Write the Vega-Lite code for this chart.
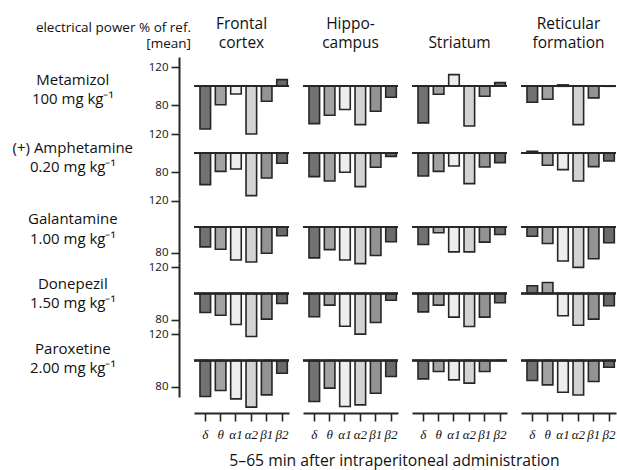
{
  "$schema": "https://vega.github.io/schema/vega-lite/v6.json",
  "padding": {"left": 12, "top": 16, "right": 0, "bottom": 2},
  "background": "white",
  "bounds": "flush",
  "align": "each",
  "columns": 4,
  "spacing": {"row": 0, "column": 14},
  "title": {"text": ["electrical power % of ref.", "[mean]"], "anchor": "start", "frame": "group", "align": "right", "font": "Open Sans", "fontSize": 13.5, "fontWeight": "normal", "lineHeight": 16, "dx": -3, "dy": 54, "baseline": "bottom", "color": "#111"},
  "datasets": {
    "eeg": [
      {"drug": "Metamizol", "region": "Frontal cortex", "band": "δ", "value": 55},
      {"drug": "Metamizol", "region": "Frontal cortex", "band": "θ", "value": 80.6},
      {"drug": "Metamizol", "region": "Frontal cortex", "band": "α1", "value": 91.9},
      {"drug": "Metamizol", "region": "Frontal cortex", "band": "α2", "value": 49.8},
      {"drug": "Metamizol", "region": "Frontal cortex", "band": "β1", "value": 84.2},
      {"drug": "Metamizol", "region": "Frontal cortex", "band": "β2", "value": 107},
      {"drug": "Metamizol", "region": "Hippocampus", "band": "δ", "value": 60.7},
      {"drug": "Metamizol", "region": "Hippocampus", "band": "θ", "value": 69.5},
      {"drug": "Metamizol", "region": "Hippocampus", "band": "α1", "value": 75.5},
      {"drug": "Metamizol", "region": "Hippocampus", "band": "α2", "value": 59.7},
      {"drug": "Metamizol", "region": "Hippocampus", "band": "β1", "value": 73.7},
      {"drug": "Metamizol", "region": "Hippocampus", "band": "β2", "value": 88.4},
      {"drug": "Metamizol", "region": "Striatum", "band": "δ", "value": 61.5},
      {"drug": "Metamizol", "region": "Striatum", "band": "θ", "value": 91.6},
      {"drug": "Metamizol", "region": "Striatum", "band": "α1", "value": 112.3},
      {"drug": "Metamizol", "region": "Striatum", "band": "α2", "value": 58.2},
      {"drug": "Metamizol", "region": "Striatum", "band": "β1", "value": 89.5},
      {"drug": "Metamizol", "region": "Striatum", "band": "β2", "value": 103.9},
      {"drug": "Metamizol", "region": "Reticular formation", "band": "δ", "value": 83.2},
      {"drug": "Metamizol", "region": "Reticular formation", "band": "θ", "value": 86.3},
      {"drug": "Metamizol", "region": "Reticular formation", "band": "α1", "value": 101.5},
      {"drug": "Metamizol", "region": "Reticular formation", "band": "α2", "value": 59.7},
      {"drug": "Metamizol", "region": "Reticular formation", "band": "β1", "value": 87.8},
      {"drug": "Metamizol", "region": "Reticular formation", "band": "β2", "value": 100.3},
      {"drug": "Amphetamine", "region": "Frontal cortex", "band": "δ", "value": 67},
      {"drug": "Amphetamine", "region": "Frontal cortex", "band": "θ", "value": 81},
      {"drug": "Amphetamine", "region": "Frontal cortex", "band": "α1", "value": 83.5},
      {"drug": "Amphetamine", "region": "Frontal cortex", "band": "α2", "value": 55.4},
      {"drug": "Amphetamine", "region": "Frontal cortex", "band": "β1", "value": 74},
      {"drug": "Amphetamine", "region": "Frontal cortex", "band": "β2", "value": 89.5},
      {"drug": "Amphetamine", "region": "Hippocampus", "band": "δ", "value": 75.4},
      {"drug": "Amphetamine", "region": "Hippocampus", "band": "θ", "value": 70.8},
      {"drug": "Amphetamine", "region": "Hippocampus", "band": "α1", "value": 80},
      {"drug": "Amphetamine", "region": "Hippocampus", "band": "α2", "value": 64.9},
      {"drug": "Amphetamine", "region": "Hippocampus", "band": "β1", "value": 85.3},
      {"drug": "Amphetamine", "region": "Hippocampus", "band": "β2", "value": 96.8},
      {"drug": "Amphetamine", "region": "Striatum", "band": "δ", "value": 76.1},
      {"drug": "Amphetamine", "region": "Striatum", "band": "θ", "value": 81},
      {"drug": "Amphetamine", "region": "Striatum", "band": "α1", "value": 86.7},
      {"drug": "Amphetamine", "region": "Striatum", "band": "α2", "value": 68.1},
      {"drug": "Amphetamine", "region": "Striatum", "band": "β1", "value": 85.6},
      {"drug": "Amphetamine", "region": "Striatum", "band": "β2", "value": 90.2},
      {"drug": "Amphetamine", "region": "Reticular formation", "band": "δ", "value": 102},
      {"drug": "Amphetamine", "region": "Reticular formation", "band": "θ", "value": 87.4},
      {"drug": "Amphetamine", "region": "Reticular formation", "band": "α1", "value": 82.8},
      {"drug": "Amphetamine", "region": "Reticular formation", "band": "α2", "value": 70.9},
      {"drug": "Amphetamine", "region": "Reticular formation", "band": "β1", "value": 86},
      {"drug": "Amphetamine", "region": "Reticular formation", "band": "β2", "value": 91.9},
      {"drug": "Galantamine", "region": "Frontal cortex", "band": "δ", "value": 84.5},
      {"drug": "Galantamine", "region": "Frontal cortex", "band": "θ", "value": 82.7},
      {"drug": "Galantamine", "region": "Frontal cortex", "band": "α1", "value": 74.4},
      {"drug": "Galantamine", "region": "Frontal cortex", "band": "α2", "value": 72.9},
      {"drug": "Galantamine", "region": "Frontal cortex", "band": "β1", "value": 79.6},
      {"drug": "Galantamine", "region": "Frontal cortex", "band": "β2", "value": 93},
      {"drug": "Galantamine", "region": "Hippocampus", "band": "δ", "value": 76},
      {"drug": "Galantamine", "region": "Hippocampus", "band": "θ", "value": 82.4},
      {"drug": "Galantamine", "region": "Hippocampus", "band": "α1", "value": 74.4},
      {"drug": "Galantamine", "region": "Hippocampus", "band": "α2", "value": 71.6},
      {"drug": "Galantamine", "region": "Hippocampus", "band": "β1", "value": 77.8},
      {"drug": "Galantamine", "region": "Hippocampus", "band": "β2", "value": 88.4},
      {"drug": "Galantamine", "region": "Striatum", "band": "δ", "value": 86.3},
      {"drug": "Galantamine", "region": "Striatum", "band": "θ", "value": 95.3},
      {"drug": "Galantamine", "region": "Striatum", "band": "α1", "value": 80.6},
      {"drug": "Galantamine", "region": "Striatum", "band": "α2", "value": 80.6},
      {"drug": "Galantamine", "region": "Striatum", "band": "β1", "value": 88.1},
      {"drug": "Galantamine", "region": "Striatum", "band": "β2", "value": 94},
      {"drug": "Galantamine", "region": "Reticular formation", "band": "δ", "value": 92.7},
      {"drug": "Galantamine", "region": "Reticular formation", "band": "θ", "value": 87.1},
      {"drug": "Galantamine", "region": "Reticular formation", "band": "α1", "value": 73.6},
      {"drug": "Galantamine", "region": "Reticular formation", "band": "α2", "value": 68.7},
      {"drug": "Galantamine", "region": "Reticular formation", "band": "β1", "value": 75.4},
      {"drug": "Galantamine", "region": "Reticular formation", "band": "β2", "value": 87.6},
      {"drug": "Donepezil", "region": "Frontal cortex", "band": "δ", "value": 85.5},
      {"drug": "Donepezil", "region": "Frontal cortex", "band": "θ", "value": 83.4},
      {"drug": "Donepezil", "region": "Frontal cortex", "band": "α1", "value": 76.3},
      {"drug": "Donepezil", "region": "Frontal cortex", "band": "α2", "value": 67.2},
      {"drug": "Donepezil", "region": "Frontal cortex", "band": "β1", "value": 80.4},
      {"drug": "Donepezil", "region": "Frontal cortex", "band": "β2", "value": 92.4},
      {"drug": "Donepezil", "region": "Hippocampus", "band": "δ", "value": 82.2},
      {"drug": "Donepezil", "region": "Hippocampus", "band": "θ", "value": 91.1},
      {"drug": "Donepezil", "region": "Hippocampus", "band": "α1", "value": 75},
      {"drug": "Donepezil", "region": "Hippocampus", "band": "α2", "value": 69},
      {"drug": "Donepezil", "region": "Hippocampus", "band": "β1", "value": 77.9},
      {"drug": "Donepezil", "region": "Hippocampus", "band": "β2", "value": 94.9},
      {"drug": "Donepezil", "region": "Striatum", "band": "δ", "value": 86},
      {"drug": "Donepezil", "region": "Striatum", "band": "θ", "value": 91.1},
      {"drug": "Donepezil", "region": "Striatum", "band": "α1", "value": 82},
      {"drug": "Donepezil", "region": "Striatum", "band": "α2", "value": 74.8},
      {"drug": "Donepezil", "region": "Striatum", "band": "β1", "value": 82},
      {"drug": "Donepezil", "region": "Striatum", "band": "β2", "value": 92.9},
      {"drug": "Donepezil", "region": "Reticular formation", "band": "δ", "value": 105.9},
      {"drug": "Donepezil", "region": "Reticular formation", "band": "θ", "value": 108.4},
      {"drug": "Donepezil", "region": "Reticular formation", "band": "α1", "value": 83},
      {"drug": "Donepezil", "region": "Reticular formation", "band": "α2", "value": 75.8},
      {"drug": "Donepezil", "region": "Reticular formation", "band": "β1", "value": 80.4},
      {"drug": "Donepezil", "region": "Reticular formation", "band": "β2", "value": 90.6},
      {"drug": "Paroxetine", "region": "Frontal cortex", "band": "δ", "value": 72.5},
      {"drug": "Paroxetine", "region": "Frontal cortex", "band": "θ", "value": 77.1},
      {"drug": "Paroxetine", "region": "Frontal cortex", "band": "α1", "value": 70.7},
      {"drug": "Paroxetine", "region": "Frontal cortex", "band": "α2", "value": 64.4},
      {"drug": "Paroxetine", "region": "Frontal cortex", "band": "β1", "value": 73.8},
      {"drug": "Paroxetine", "region": "Frontal cortex", "band": "β2", "value": 90.3},
      {"drug": "Paroxetine", "region": "Hippocampus", "band": "δ", "value": 68.7},
      {"drug": "Paroxetine", "region": "Hippocampus", "band": "θ", "value": 78.9},
      {"drug": "Paroxetine", "region": "Hippocampus", "band": "α1", "value": 64.9},
      {"drug": "Paroxetine", "region": "Hippocampus", "band": "α2", "value": 66.1},
      {"drug": "Paroxetine", "region": "Hippocampus", "band": "β1", "value": 75},
      {"drug": "Paroxetine", "region": "Hippocampus", "band": "β2", "value": 87.8},
      {"drug": "Paroxetine", "region": "Striatum", "band": "δ", "value": 86},
      {"drug": "Paroxetine", "region": "Striatum", "band": "θ", "value": 91.6},
      {"drug": "Paroxetine", "region": "Striatum", "band": "α1", "value": 85.2},
      {"drug": "Paroxetine", "region": "Striatum", "band": "α2", "value": 82.7},
      {"drug": "Paroxetine", "region": "Striatum", "band": "β1", "value": 91.6},
      {"drug": "Paroxetine", "region": "Striatum", "band": "β2", "value": 100},
      {"drug": "Paroxetine", "region": "Reticular formation", "band": "δ", "value": 84.7},
      {"drug": "Paroxetine", "region": "Reticular formation", "band": "θ", "value": 81.4},
      {"drug": "Paroxetine", "region": "Reticular formation", "band": "α1", "value": 75.8},
      {"drug": "Paroxetine", "region": "Reticular formation", "band": "α2", "value": 73.7},
      {"drug": "Paroxetine", "region": "Reticular formation", "band": "β1", "value": 84},
      {"drug": "Paroxetine", "region": "Reticular formation", "band": "β2", "value": 94.9}
    ]
  },
  "data": {"name": "eeg"},
  "concat": [
    {"width": 95, "height": 76, "title": {"text": ["Frontal", "cortex"]},
     "transform": [{"filter": "datum.drug === 'Metamizol' && datum.region === 'Frontal cortex'"}],
     "layer": [
      {"mark": {"type": "bar", "stroke": "#262626", "strokeWidth": 1.6},
       "encoding": {
        "x": {"field": "band", "type": "nominal", "sort": ["δ", "θ", "α1", "α2", "β1", "β2"], "scale": {"paddingInner": 0.31, "paddingOuter": 0.25, "align": 0.78}, "axis": null},
        "y": {"field": "value", "type": "quantitative", "scale": {"domain": [50.84, 130.84], "nice": false, "zero": false}, "axis": {"values": [80, 120], "offset": 15, "title": ["Metamizol", "100 mg kg⁻¹"], "titleX": -106.7, "titleY": 22}},
        "y2": {"datum": 100},
        "color": {"field": "band", "type": "nominal", "scale": {"domain": ["δ", "θ", "α1", "α2", "β1", "β2"], "range": ["#727272", "#a2a2a2", "#eeeeee", "#d3d3d3", "#939393", "#6a6a6a"]}, "legend": null}}},
      {"mark": {"type": "rule", "color": "#262626", "strokeWidth": 1.6}, "encoding": {"y": {"datum": 100}}}
     ]},
    {"width": 95, "height": 76, "title": {"text": ["Hippo-", "campus"]},
     "transform": [{"filter": "datum.drug === 'Metamizol' && datum.region === 'Hippocampus'"}],
     "layer": [
      {"mark": {"type": "bar", "stroke": "#262626", "strokeWidth": 1.6},
       "encoding": {
        "x": {"field": "band", "type": "nominal", "sort": ["δ", "θ", "α1", "α2", "β1", "β2"], "scale": {"paddingInner": 0.31, "paddingOuter": 0.25, "align": 0.78}, "axis": null},
        "y": {"field": "value", "type": "quantitative", "scale": {"domain": [50.84, 130.84], "nice": false, "zero": false}, "axis": null},
        "y2": {"datum": 100},
        "color": {"field": "band", "type": "nominal", "legend": null}}},
      {"mark": {"type": "rule", "color": "#262626", "strokeWidth": 1.6}, "encoding": {"y": {"datum": 100}}}
     ]},
    {"width": 95, "height": 76, "title": {"text": ["Striatum"]},
     "transform": [{"filter": "datum.drug === 'Metamizol' && datum.region === 'Striatum'"}],
     "layer": [
      {"mark": {"type": "bar", "stroke": "#262626", "strokeWidth": 1.6},
       "encoding": {
        "x": {"field": "band", "type": "nominal", "sort": ["δ", "θ", "α1", "α2", "β1", "β2"], "scale": {"paddingInner": 0.31, "paddingOuter": 0.25, "align": 0.78}, "axis": null},
        "y": {"field": "value", "type": "quantitative", "scale": {"domain": [50.84, 130.84], "nice": false, "zero": false}, "axis": null},
        "y2": {"datum": 100},
        "color": {"field": "band", "type": "nominal", "legend": null}}},
      {"mark": {"type": "rule", "color": "#262626", "strokeWidth": 1.6}, "encoding": {"y": {"datum": 100}}}
     ]},
    {"width": 95, "height": 76, "title": {"text": ["Reticular", "formation"]},
     "transform": [{"filter": "datum.drug === 'Metamizol' && datum.region === 'Reticular formation'"}],
     "layer": [
      {"mark": {"type": "bar", "stroke": "#262626", "strokeWidth": 1.6},
       "encoding": {
        "x": {"field": "band", "type": "nominal", "sort": ["δ", "θ", "α1", "α2", "β1", "β2"], "scale": {"paddingInner": 0.31, "paddingOuter": 0.25, "align": 0.78}, "axis": null},
        "y": {"field": "value", "type": "quantitative", "scale": {"domain": [50.84, 130.84], "nice": false, "zero": false}, "axis": null},
        "y2": {"datum": 100},
        "color": {"field": "band", "type": "nominal", "legend": null}}},
      {"mark": {"type": "rule", "color": "#262626", "strokeWidth": 1.6}, "encoding": {"y": {"datum": 100}}}
     ]},

    {"width": 95, "height": 65,
     "transform": [{"filter": "datum.drug === 'Amphetamine' && datum.region === 'Frontal cortex'"}],
     "layer": [
      {"mark": {"type": "bar", "stroke": "#262626", "strokeWidth": 1.6},
       "encoding": {
        "x": {"field": "band", "type": "nominal", "sort": ["δ", "θ", "α1", "α2", "β1", "β2"], "scale": {"paddingInner": 0.31, "paddingOuter": 0.25, "align": 0.78}, "axis": null},
        "y": {"field": "value", "type": "quantitative", "scale": {"domain": [52.95, 121.37], "nice": false, "zero": false}, "axis": {"values": [80, 120], "offset": 15, "title": ["(+) Amphetamine", "0.20 mg kg⁻¹"], "titleX": -106.7, "titleY": 14}},
        "y2": {"datum": 100},
        "color": {"field": "band", "type": "nominal", "legend": null}}},
      {"mark": {"type": "rule", "color": "#262626", "strokeWidth": 1.6}, "encoding": {"y": {"datum": 100}}}
     ]},
    {"width": 95, "height": 65,
     "transform": [{"filter": "datum.drug === 'Amphetamine' && datum.region === 'Hippocampus'"}],
     "layer": [
      {"mark": {"type": "bar", "stroke": "#262626", "strokeWidth": 1.6},
       "encoding": {
        "x": {"field": "band", "type": "nominal", "sort": ["δ", "θ", "α1", "α2", "β1", "β2"], "scale": {"paddingInner": 0.31, "paddingOuter": 0.25, "align": 0.78}, "axis": null},
        "y": {"field": "value", "type": "quantitative", "scale": {"domain": [52.95, 121.37], "nice": false, "zero": false}, "axis": null},
        "y2": {"datum": 100},
        "color": {"field": "band", "type": "nominal", "legend": null}}},
      {"mark": {"type": "rule", "color": "#262626", "strokeWidth": 1.6}, "encoding": {"y": {"datum": 100}}}
     ]},
    {"width": 95, "height": 65,
     "transform": [{"filter": "datum.drug === 'Amphetamine' && datum.region === 'Striatum'"}],
     "layer": [
      {"mark": {"type": "bar", "stroke": "#262626", "strokeWidth": 1.6},
       "encoding": {
        "x": {"field": "band", "type": "nominal", "sort": ["δ", "θ", "α1", "α2", "β1", "β2"], "scale": {"paddingInner": 0.31, "paddingOuter": 0.25, "align": 0.78}, "axis": null},
        "y": {"field": "value", "type": "quantitative", "scale": {"domain": [52.95, 121.37], "nice": false, "zero": false}, "axis": null},
        "y2": {"datum": 100},
        "color": {"field": "band", "type": "nominal", "legend": null}}},
      {"mark": {"type": "rule", "color": "#262626", "strokeWidth": 1.6}, "encoding": {"y": {"datum": 100}}}
     ]},
    {"width": 95, "height": 65,
     "transform": [{"filter": "datum.drug === 'Amphetamine' && datum.region === 'Reticular formation'"}],
     "layer": [
      {"mark": {"type": "bar", "stroke": "#262626", "strokeWidth": 1.6},
       "encoding": {
        "x": {"field": "band", "type": "nominal", "sort": ["δ", "θ", "α1", "α2", "β1", "β2"], "scale": {"paddingInner": 0.31, "paddingOuter": 0.25, "align": 0.78}, "axis": null},
        "y": {"field": "value", "type": "quantitative", "scale": {"domain": [52.95, 121.37], "nice": false, "zero": false}, "axis": null},
        "y2": {"datum": 100},
        "color": {"field": "band", "type": "nominal", "legend": null}}},
      {"mark": {"type": "rule", "color": "#262626", "strokeWidth": 1.6}, "encoding": {"y": {"datum": 100}}}
     ]},

    {"width": 95, "height": 65,
     "transform": [{"filter": "datum.drug === 'Galantamine' && datum.region === 'Frontal cortex'"}],
     "layer": [
      {"mark": {"type": "bar", "stroke": "#262626", "strokeWidth": 1.6},
       "encoding": {
        "x": {"field": "band", "type": "nominal", "sort": ["δ", "θ", "α1", "α2", "β1", "β2"], "scale": {"paddingInner": 0.31, "paddingOuter": 0.25, "align": 0.78}, "axis": null},
        "y": {"field": "value", "type": "quantitative", "scale": {"domain": [72.08, 122.08], "nice": false, "zero": false}, "axis": {"values": [80, 120], "offset": 15, "title": ["Galantamine", "1.00 mg kg⁻¹"], "titleX": -106.7, "titleY": 20.5}},
        "y2": {"datum": 100},
        "color": {"field": "band", "type": "nominal", "legend": null}}},
      {"mark": {"type": "rule", "color": "#262626", "strokeWidth": 1.6}, "encoding": {"y": {"datum": 100}}}
     ]},
    {"width": 95, "height": 65,
     "transform": [{"filter": "datum.drug === 'Galantamine' && datum.region === 'Hippocampus'"}],
     "layer": [
      {"mark": {"type": "bar", "stroke": "#262626", "strokeWidth": 1.6},
       "encoding": {
        "x": {"field": "band", "type": "nominal", "sort": ["δ", "θ", "α1", "α2", "β1", "β2"], "scale": {"paddingInner": 0.31, "paddingOuter": 0.25, "align": 0.78}, "axis": null},
        "y": {"field": "value", "type": "quantitative", "scale": {"domain": [72.08, 122.08], "nice": false, "zero": false}, "axis": null},
        "y2": {"datum": 100},
        "color": {"field": "band", "type": "nominal", "legend": null}}},
      {"mark": {"type": "rule", "color": "#262626", "strokeWidth": 1.6}, "encoding": {"y": {"datum": 100}}}
     ]},
    {"width": 95, "height": 65,
     "transform": [{"filter": "datum.drug === 'Galantamine' && datum.region === 'Striatum'"}],
     "layer": [
      {"mark": {"type": "bar", "stroke": "#262626", "strokeWidth": 1.6},
       "encoding": {
        "x": {"field": "band", "type": "nominal", "sort": ["δ", "θ", "α1", "α2", "β1", "β2"], "scale": {"paddingInner": 0.31, "paddingOuter": 0.25, "align": 0.78}, "axis": null},
        "y": {"field": "value", "type": "quantitative", "scale": {"domain": [72.08, 122.08], "nice": false, "zero": false}, "axis": null},
        "y2": {"datum": 100},
        "color": {"field": "band", "type": "nominal", "legend": null}}},
      {"mark": {"type": "rule", "color": "#262626", "strokeWidth": 1.6}, "encoding": {"y": {"datum": 100}}}
     ]},
    {"width": 95, "height": 65,
     "transform": [{"filter": "datum.drug === 'Galantamine' && datum.region === 'Reticular formation'"}],
     "layer": [
      {"mark": {"type": "bar", "stroke": "#262626", "strokeWidth": 1.6},
       "encoding": {
        "x": {"field": "band", "type": "nominal", "sort": ["δ", "θ", "α1", "α2", "β1", "β2"], "scale": {"paddingInner": 0.31, "paddingOuter": 0.25, "align": 0.78}, "axis": null},
        "y": {"field": "value", "type": "quantitative", "scale": {"domain": [72.08, 122.08], "nice": false, "zero": false}, "axis": null},
        "y2": {"datum": 100},
        "color": {"field": "band", "type": "nominal", "legend": null}}},
      {"mark": {"type": "rule", "color": "#262626", "strokeWidth": 1.6}, "encoding": {"y": {"datum": 100}}}
     ]},

    {"width": 95, "height": 66,
     "transform": [{"filter": "datum.drug === 'Donepezil' && datum.region === 'Frontal cortex'"}],
     "layer": [
      {"mark": {"type": "bar", "stroke": "#262626", "strokeWidth": 1.6},
       "encoding": {
        "x": {"field": "band", "type": "nominal", "sort": ["δ", "θ", "α1", "α2", "β1", "β2"], "scale": {"paddingInner": 0.31, "paddingOuter": 0.25, "align": 0.78}, "axis": null},
        "y": {"field": "value", "type": "quantitative", "scale": {"domain": [72.9, 123.28], "nice": false, "zero": false}, "axis": {"values": [80, 120], "offset": 15, "title": ["Donepezil", "1.50 mg kg⁻¹"], "titleX": -106.7, "titleY": 20}},
        "y2": {"datum": 100},
        "color": {"field": "band", "type": "nominal", "legend": null}}},
      {"mark": {"type": "rule", "color": "#262626", "strokeWidth": 1.6}, "encoding": {"y": {"datum": 100}}}
     ]},
    {"width": 95, "height": 66,
     "transform": [{"filter": "datum.drug === 'Donepezil' && datum.region === 'Hippocampus'"}],
     "layer": [
      {"mark": {"type": "bar", "stroke": "#262626", "strokeWidth": 1.6},
       "encoding": {
        "x": {"field": "band", "type": "nominal", "sort": ["δ", "θ", "α1", "α2", "β1", "β2"], "scale": {"paddingInner": 0.31, "paddingOuter": 0.25, "align": 0.78}, "axis": null},
        "y": {"field": "value", "type": "quantitative", "scale": {"domain": [72.9, 123.28], "nice": false, "zero": false}, "axis": null},
        "y2": {"datum": 100},
        "color": {"field": "band", "type": "nominal", "legend": null}}},
      {"mark": {"type": "rule", "color": "#262626", "strokeWidth": 1.6}, "encoding": {"y": {"datum": 100}}}
     ]},
    {"width": 95, "height": 66,
     "transform": [{"filter": "datum.drug === 'Donepezil' && datum.region === 'Striatum'"}],
     "layer": [
      {"mark": {"type": "bar", "stroke": "#262626", "strokeWidth": 1.6},
       "encoding": {
        "x": {"field": "band", "type": "nominal", "sort": ["δ", "θ", "α1", "α2", "β1", "β2"], "scale": {"paddingInner": 0.31, "paddingOuter": 0.25, "align": 0.78}, "axis": null},
        "y": {"field": "value", "type": "quantitative", "scale": {"domain": [72.9, 123.28], "nice": false, "zero": false}, "axis": null},
        "y2": {"datum": 100},
        "color": {"field": "band", "type": "nominal", "legend": null}}},
      {"mark": {"type": "rule", "color": "#262626", "strokeWidth": 1.6}, "encoding": {"y": {"datum": 100}}}
     ]},
    {"width": 95, "height": 66,
     "transform": [{"filter": "datum.drug === 'Donepezil' && datum.region === 'Reticular formation'"}],
     "layer": [
      {"mark": {"type": "bar", "stroke": "#262626", "strokeWidth": 1.6},
       "encoding": {
        "x": {"field": "band", "type": "nominal", "sort": ["δ", "θ", "α1", "α2", "β1", "β2"], "scale": {"paddingInner": 0.31, "paddingOuter": 0.25, "align": 0.78}, "axis": null},
        "y": {"field": "value", "type": "quantitative", "scale": {"domain": [72.9, 123.28], "nice": false, "zero": false}, "axis": null},
        "y2": {"datum": 100},
        "color": {"field": "band", "type": "nominal", "legend": null}}},
      {"mark": {"type": "rule", "color": "#262626", "strokeWidth": 1.6}, "encoding": {"y": {"datum": 100}}}
     ]},

    {"width": 95, "height": 68,
     "transform": [{"filter": "datum.drug === 'Paroxetine' && datum.region === 'Frontal cortex'"}],
     "layer": [
      {"mark": {"type": "bar", "stroke": "#262626", "strokeWidth": 1.6},
       "encoding": {
        "x": {"field": "band", "type": "nominal", "sort": ["δ", "θ", "α1", "α2", "β1", "β2"], "scale": {"paddingInner": 0.31, "paddingOuter": 0.25, "align": 0.78}, "axis": {"title": null}},
        "y": {"field": "value", "type": "quantitative", "scale": {"domain": [72.14, 124.05], "nice": false, "zero": false}, "axis": {"values": [80, 120], "offset": 15, "title": ["Paroxetine", "2.00 mg kg⁻¹"], "titleX": -106.7, "titleY": 19}},
        "y2": {"datum": 100},
        "color": {"field": "band", "type": "nominal", "legend": null}}},
      {"mark": {"type": "rule", "color": "#262626", "strokeWidth": 1.6}, "encoding": {"y": {"datum": 100}}}
     ]},
    {"width": 95, "height": 68,
     "transform": [{"filter": "datum.drug === 'Paroxetine' && datum.region === 'Hippocampus'"}],
     "layer": [
      {"mark": {"type": "bar", "stroke": "#262626", "strokeWidth": 1.6},
       "encoding": {
        "x": {"field": "band", "type": "nominal", "sort": ["δ", "θ", "α1", "α2", "β1", "β2"], "scale": {"paddingInner": 0.31, "paddingOuter": 0.25, "align": 0.78}, "axis": {"title": "5–65 min after intraperitoneal administration", "titleX": 91, "titleY": 47.5, "titleAlign": "center", "titleBaseline": "middle", "titleFontSize": 15.7}},
        "y": {"field": "value", "type": "quantitative", "scale": {"domain": [72.14, 124.05], "nice": false, "zero": false}, "axis": null},
        "y2": {"datum": 100},
        "color": {"field": "band", "type": "nominal", "legend": null}}},
      {"mark": {"type": "rule", "color": "#262626", "strokeWidth": 1.6}, "encoding": {"y": {"datum": 100}}}
     ]},
    {"width": 95, "height": 68,
     "transform": [{"filter": "datum.drug === 'Paroxetine' && datum.region === 'Striatum'"}],
     "layer": [
      {"mark": {"type": "bar", "stroke": "#262626", "strokeWidth": 1.6},
       "encoding": {
        "x": {"field": "band", "type": "nominal", "sort": ["δ", "θ", "α1", "α2", "β1", "β2"], "scale": {"paddingInner": 0.31, "paddingOuter": 0.25, "align": 0.78}, "axis": {"title": null}},
        "y": {"field": "value", "type": "quantitative", "scale": {"domain": [72.14, 124.05], "nice": false, "zero": false}, "axis": null},
        "y2": {"datum": 100},
        "color": {"field": "band", "type": "nominal", "legend": null}}},
      {"mark": {"type": "rule", "color": "#262626", "strokeWidth": 1.6}, "encoding": {"y": {"datum": 100}}}
     ]},
    {"width": 95, "height": 68,
     "transform": [{"filter": "datum.drug === 'Paroxetine' && datum.region === 'Reticular formation'"}],
     "layer": [
      {"mark": {"type": "bar", "stroke": "#262626", "strokeWidth": 1.6},
       "encoding": {
        "x": {"field": "band", "type": "nominal", "sort": ["δ", "θ", "α1", "α2", "β1", "β2"], "scale": {"paddingInner": 0.31, "paddingOuter": 0.25, "align": 0.78}, "axis": {"title": null}},
        "y": {"field": "value", "type": "quantitative", "scale": {"domain": [72.14, 124.05], "nice": false, "zero": false}, "axis": null},
        "y2": {"datum": 100},
        "color": {"field": "band", "type": "nominal", "legend": null}}},
      {"mark": {"type": "rule", "color": "#262626", "strokeWidth": 1.6}, "encoding": {"y": {"datum": 100}}}
     ]}
  ],
  "config": {
    "view": {"stroke": null},
    "font": "Open Sans",
    "title": {"font": "Open Sans", "fontSize": 15.5, "fontWeight": "normal", "color": "#111", "lineHeight": 19, "offset": 6, "baseline": "bottom"},
    "axis": {"grid": false, "domainColor": "#262626", "domainWidth": 2, "tickColor": "#262626", "tickWidth": 1.6, "tickSize": 8, "labelFont": "Open Sans", "labelFontSize": 11.5, "labelColor": "#111", "labelPadding": 3, "titleFont": "Open Sans", "titleFontSize": 15, "titleFontWeight": "normal", "titleColor": "#111", "titleLineHeight": 19.5},
    "axisY": {"titleAngle": 0, "titleAlign": "center", "titleBaseline": "middle"},
    "axisX": {"offset": 16, "labelAngle": 0, "labelFont": "Liberation Serif", "labelFontStyle": "italic", "labelFontSize": 13, "labelPadding": 7}
  }
}
